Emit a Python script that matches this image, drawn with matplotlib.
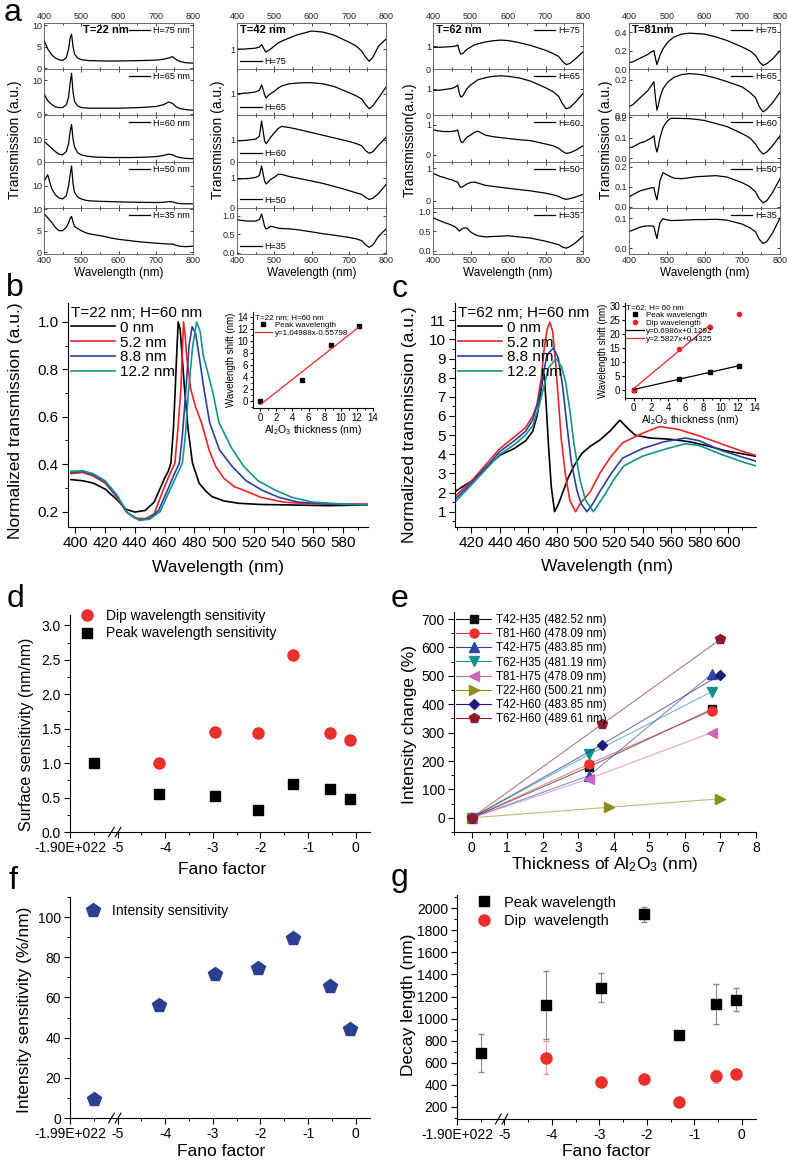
import matplotlib
matplotlib.use("Agg")
import matplotlib.pyplot as plt
from matplotlib.ticker import MultipleLocator
from matplotlib.lines import Line2D

plt.rcParams['font.family'] = ['Liberation Sans', 'DejaVu Sans']
plt.rcParams['mathtext.default'] = 'regular'
plt.rcParams['axes.unicode_minus'] = False
plt.rcParams['axes.linewidth'] = 0.8

# ==============================
# DATA
# ==============================

# --- panel a : transmission spectra, one wavelength grid for all curves
wl_a = [400, 410, 420, 430, 440, 450, 460, 466, 470, 474, 478, 482, 490, 500, 510,
        520, 540, 560, 580, 600, 630, 660, 700, 720, 735, 745, 755, 765, 780, 800]
heights = [75, 65, 60, 50, 35]

t22_h75 = [6.5, 4.5, 3.2, 2.4, 2.0, 1.8, 2.5, 4.5, 7.0, 7.9, 5.0, 3.3, 2.4, 2.0, 1.9,
           1.8, 1.75, 1.7, 1.7, 1.7, 1.75, 1.8, 1.9, 2.1, 2.4, 2.7, 2.0, 1.6, 1.3, 1.2]
t22_h65 = [6.0, 4.0, 3.0, 2.2, 2.0, 2.0, 2.8, 5.0, 9.0, 12.0, 6.5, 3.8, 2.5, 2.0, 1.9,
           1.8, 1.8, 1.8, 1.8, 1.8, 1.9, 2.0, 2.3, 2.8, 3.6, 3.2, 2.2, 1.7, 1.4, 1.2]
t22_h60 = [9.0, 7.5, 6.0, 4.5, 3.3, 3.0, 4.5, 8.0, 13.0, 16.5, 10.0, 6.5, 4.0, 3.0, 2.6,
           2.3, 2.0, 1.9, 1.8, 1.8, 1.8, 1.9, 2.2, 2.7, 3.3, 3.0, 2.2, 1.8, 1.4, 1.3]
t22_h50 = [12.0, 15.0, 9.0, 6.0, 4.5, 4.0, 5.5, 10.0, 15.0, 19.0, 11.0, 7.0, 5.0, 4.0, 3.5,
           3.2, 3.0, 2.9, 2.8, 2.7, 2.6, 2.5, 2.4, 2.5, 2.8, 2.7, 2.2, 1.9, 1.8, 1.8]
t22_h35 = [9.0, 8.0, 7.0, 5.8, 5.0, 5.0, 5.8, 6.8, 7.8, 8.3, 7.0, 6.0, 5.5, 5.0, 4.6,
           4.3, 4.0, 3.7, 3.3, 3.0, 2.7, 2.4, 2.1, 2.0, 1.9, 1.9, 1.6, 1.4, 1.3, 1.4]

t42_h75 = [1.0, 1.0, 1.0, 1.02, 1.03, 1.05, 1.1, 1.22, 1.1, 0.95, 0.85, 0.9, 1.0, 1.15, 1.3,
           1.4, 1.55, 1.7, 1.8, 1.9, 1.85, 1.7, 1.35, 1.15, 0.9, 0.6, 0.4, 0.6, 1.15, 1.5]
t42_h65 = [1.0, 1.0, 1.02, 1.03, 1.05, 1.08, 1.15, 1.4, 1.2, 0.95, 0.8, 0.88, 1.0, 1.1, 1.25,
           1.35, 1.45, 1.48, 1.5, 1.5, 1.45, 1.33, 1.05, 0.9, 0.75, 0.5, 0.3, 0.45, 0.8, 1.3]
t42_h60 = [0.95, 0.95, 0.96, 0.98, 1.0, 1.02, 1.15, 1.85, 1.4, 0.95, 0.82, 0.9, 1.1, 1.3, 1.5,
           1.6, 1.55, 1.48, 1.4, 1.32, 1.2, 1.08, 0.92, 0.82, 0.72, 0.5, 0.38, 0.45, 0.75, 1.1]
t42_h50 = [0.97, 0.97, 0.98, 0.98, 1.0, 1.02, 1.08, 1.4, 1.15, 0.9, 0.8, 0.85, 0.95, 1.02, 1.12,
           1.12, 1.05, 1.0, 0.95, 0.9, 0.82, 0.72, 0.58, 0.5, 0.45, 0.35, 0.28, 0.32, 0.48, 0.78]
t42_h35 = [0.9, 0.88, 0.87, 0.86, 0.86, 0.86, 0.9, 1.05, 0.9, 0.72, 0.65, 0.66, 0.72, 0.7, 0.67,
           0.66, 0.65, 0.63, 0.6, 0.57, 0.52, 0.48, 0.42, 0.38, 0.33, 0.22, 0.15, 0.22, 0.45, 0.65]

t62_h75 = [0.95, 0.95, 0.95, 0.96, 0.97, 0.98, 1.0, 1.05, 0.8, 0.65, 0.67, 0.72, 0.85, 0.95, 1.05,
           1.1, 1.18, 1.23, 1.26, 1.24, 1.15, 1.03, 0.82, 0.68, 0.55, 0.35, 0.2, 0.25, 0.45, 0.75]
t62_h65 = [0.95, 0.95, 0.96, 0.98, 1.0, 1.02, 1.08, 1.15, 0.85, 0.7, 0.72, 0.8, 1.0, 1.15, 1.25,
           1.35, 1.43, 1.48, 1.5, 1.48, 1.42, 1.3, 1.05, 0.9, 0.72, 0.45, 0.25, 0.3, 0.5, 0.83]
t62_h60 = [0.83, 0.8, 0.78, 0.77, 0.77, 0.77, 0.79, 0.82, 0.6, 0.45, 0.4, 0.45, 0.58, 0.65, 0.74,
           0.78, 0.65, 0.6, 0.57, 0.54, 0.5, 0.47, 0.36, 0.3, 0.22, 0.12, 0.05, 0.07, 0.15, 0.3]
t62_h50 = [0.85, 0.8, 0.75, 0.72, 0.68, 0.65, 0.6, 0.58, 0.48, 0.42, 0.43, 0.46, 0.52, 0.57, 0.58,
           0.55, 0.48, 0.45, 0.42, 0.39, 0.35, 0.31, 0.24, 0.19, 0.14, 0.08, 0.05, 0.07, 0.12, 0.2]
t62_h35 = [0.85, 0.8, 0.76, 0.72, 0.69, 0.65, 0.6, 0.55, 0.5, 0.53, 0.56, 0.58, 0.58, 0.48, 0.42,
           0.38, 0.35, 0.36, 0.37, 0.38, 0.35, 0.32, 0.24, 0.19, 0.15, 0.09, 0.06, 0.1, 0.2, 0.37]

t81_h75 = [0.07, 0.08, 0.1, 0.12, 0.14, 0.16, 0.19, 0.2, 0.12, 0.05, 0.1, 0.15, 0.22, 0.28, 0.32,
           0.35, 0.38, 0.39, 0.385, 0.38, 0.35, 0.31, 0.24, 0.2, 0.15, 0.08, 0.04, 0.06, 0.11, 0.2]
t81_h65 = [0.05, 0.06, 0.08, 0.1, 0.12, 0.14, 0.17, 0.19, 0.1, 0.03, 0.06, 0.1, 0.15, 0.18, 0.2,
           0.215, 0.23, 0.235, 0.232, 0.226, 0.21, 0.19, 0.16, 0.13, 0.1, 0.05, 0.02, 0.035, 0.07, 0.13]
t81_h60 = [0.05, 0.055, 0.065, 0.075, 0.08, 0.09, 0.1, 0.11, 0.06, 0.03, 0.06, 0.1, 0.15, 0.18, 0.195,
           0.196, 0.195, 0.194, 0.19, 0.185, 0.17, 0.155, 0.12, 0.1, 0.07, 0.04, 0.02, 0.03, 0.06, 0.11]
t81_h50 = [0.05, 0.06, 0.07, 0.08, 0.085, 0.09, 0.095, 0.095, 0.06, 0.035, 0.08, 0.13, 0.17, 0.16, 0.15,
           0.142, 0.14, 0.145, 0.15, 0.152, 0.155, 0.148, 0.12, 0.1, 0.075, 0.04, 0.02, 0.03, 0.07, 0.14]
t81_h35 = [0.055, 0.06, 0.065, 0.07, 0.073, 0.074, 0.074, 0.072, 0.05, 0.032, 0.06, 0.085, 0.098, 0.094, 0.092,
           0.092, 0.093, 0.094, 0.095, 0.095, 0.096, 0.093, 0.08, 0.068, 0.055, 0.03, 0.016, 0.022, 0.05, 0.1]

# --- panel b : T=22 nm, H=60 nm, normalised spectra for each Al2O3 thickness
b_wl_0 = [397, 405, 412, 420, 428, 434, 440, 447, 453, 456.5, 460, 462.5, 464.3, 466, 467.2, 468.3,
          469.2, 470.5, 471.8, 473.5, 476, 478.8, 483.3, 488, 492, 500, 510, 525, 545, 570, 597]
b_tr_0 = [0.335, 0.33, 0.32, 0.295, 0.25, 0.21, 0.198, 0.205, 0.24, 0.29, 0.34, 0.37, 0.405, 0.55, 0.715, 0.88,
          1.0, 0.97, 0.86, 0.715, 0.54, 0.405, 0.32, 0.285, 0.263, 0.245, 0.235, 0.23, 0.228, 0.225, 0.228]
b_wl_52 = [397, 405, 412, 420, 428, 434, 440, 447, 453, 459, 463, 467, 469, 471, 472, 472.8,
           473.8, 474.8, 477.7, 481, 484.9, 490, 494.5, 500, 507, 513.4, 525, 540, 560, 580, 597]
b_tr_52 = [0.36, 0.365, 0.35, 0.32, 0.26, 0.2, 0.172, 0.17, 0.19, 0.29, 0.35, 0.405, 0.55, 0.715, 0.88, 1.0,
           0.95, 0.86, 0.715, 0.64, 0.575, 0.46, 0.39, 0.34, 0.305, 0.29, 0.26, 0.24, 0.232, 0.232, 0.232]
b_wl_88 = [397, 405, 412, 420, 428, 435, 443, 450, 456, 462, 466, 470, 472, 474.4, 476.5, 478.6,
           481, 483.3, 486.6, 490.4, 497, 505.6, 515, 525.7, 537, 550, 570, 597]
b_tr_88 = [0.365, 0.37, 0.355, 0.325, 0.265, 0.195, 0.165, 0.172, 0.205, 0.29, 0.35, 0.405, 0.52, 0.715, 0.9, 0.98,
           0.95, 0.856, 0.715, 0.575, 0.46, 0.39, 0.33, 0.29, 0.26, 0.24, 0.232, 0.228]
b_wl_122 = [397, 405, 412, 420, 428, 435, 443, 450, 457, 463.6, 468, 472, 474, 476.2, 479, 481.6,
            484, 486, 489, 492.6, 496.7, 505, 513.4, 523, 534.7, 545.8, 560, 580, 597]
b_tr_122 = [0.37, 0.372, 0.36, 0.33, 0.27, 0.195, 0.163, 0.168, 0.2, 0.29, 0.35, 0.405, 0.52, 0.715, 0.9, 1.0,
            0.96, 0.86, 0.79, 0.7, 0.575, 0.47, 0.39, 0.33, 0.29, 0.26, 0.24, 0.232, 0.228]

# --- panel c : T=62 nm, H=60 nm
c_wl_0 = [408.5, 420, 430, 440, 450, 458, 463, 466, 468, 470, 471, 472.5, 474, 476, 478.3, 481, 484, 488,
          492, 497.4, 503, 510, 517, 524, 529, 534.7, 545, 560, 573, 585, 597, 608, 619]
c_tr_0 = [2.05, 2.6, 3.3, 3.95, 4.3, 4.7, 5.2, 6.0, 6.9, 8.0, 8.2, 6.5, 4.5, 2.3, 1.0, 1.4, 2.0, 2.8,
          3.4, 4.04, 4.4, 4.74, 5.2, 5.78, 5.4, 5.0, 4.85, 4.78, 4.65, 4.45, 4.2, 4.05, 3.9]
c_wl_52 = [408.5, 420, 430, 440, 450, 458, 463, 466, 469, 471, 473, 475, 477, 479, 481, 483, 486, 489,
           493, 497, 503, 510, 518, 526, 540, 552, 565, 580, 595, 610, 619]
c_tr_52 = [1.8, 2.6, 3.45, 4.3, 4.9, 5.4, 6.0, 6.6, 8.0, 9.5, 10.5, 10.9, 10.4, 8.8, 6.8, 4.8, 2.9, 1.6,
           1.0, 1.5, 2.0, 3.0, 3.9, 4.6, 5.1, 5.45, 5.3, 4.95, 4.55, 4.15, 3.95]
c_wl_88 = [408.5, 420, 430, 440, 450, 458, 463, 467, 470, 473, 477.5, 481, 484, 487, 490, 494, 497, 501,
           505, 510, 518, 526, 540, 555, 570, 580, 595, 610, 619]
c_tr_88 = [1.65, 2.5, 3.3, 4.15, 4.7, 5.2, 5.8, 6.8, 8.0, 9.2, 9.55, 9.0, 7.5, 5.5, 3.6, 2.1, 1.4, 1.0,
           1.4, 2.05, 3.0, 3.8, 4.3, 4.65, 4.85, 4.7, 4.2, 3.85, 3.65]
c_wl_122 = [408.5, 420, 430, 440, 450, 458, 463, 467, 470, 474, 479.5, 483, 486, 489, 492, 496, 500, 505.5,
            510, 514, 520, 527, 540, 555, 570, 580, 595, 610, 619]
c_tr_122 = [1.5, 2.4, 3.2, 4.0, 4.5, 5.0, 5.5, 6.4, 7.3, 8.5, 9.0, 8.6, 7.8, 6.3, 4.5, 2.7, 1.6, 1.0,
            1.5, 1.95, 2.7, 3.4, 3.9, 4.25, 4.55, 4.45, 4.0, 3.6, 3.4]

thick_labels = ["0 nm", "5.2 nm", "8.8 nm", "12.2 nm"]

# insets of b and c : wavelength shift vs Al2O3 thickness
ald_thick = [0, 5.2, 8.8, 12.2]
b_peak_shift = [0, 3.6, 9.4, 12.4]
b_fit = (1.04988, -0.55798)
c_peak_shift = [0, 4.0, 6.3, 8.5]
c_dip_shift = [0, 14.5, 22.5, 27.0]
c_peak_fit = (0.6986, 0.1292)
c_dip_fit = (2.5827, 0.4325)

# --- panels d, f, g : quantities vs Fano factor
# the "break" values sit on the broken segment of the axis (Fano ~ -1.9E+22)
fano_break = -5.5
fano = [-4.13, -2.96, -2.05, -1.32, -0.55, -0.13]

d_dip = [1.0, 1.455, 1.43, 2.575, 1.43, 1.33]
d_peak_break = 1.0
d_peak = [0.546, 0.517, 0.314, 0.69, 0.62, 0.483]

f_int_break = 9.5
f_int = [56.3, 71.8, 74.6, 89.7, 65.6, 44.4]

g_peak_break, g_peak_break_err = 689, 172
g_peak = [1123, 1282, 1946, 848, 1132, 1171]
g_peak_err = [310, 135, 68, 20, 185, 105]
g_dip = [646, 429, 456, 242, 477, 499]
g_dip_err = [150, 12, 12, 10, 58, 15]

# --- panel e : intensity change vs Al2O3 thickness
e_labels = ["T42-H35 (482.52 nm)", "T81-H60 (478.09 nm)", "T42-H75 (483.85 nm)",
            "T62-H35 (481.19 nm)", "T81-H75 (478.09 nm)", "T22-H60 (500.21 nm)",
            "T42-H60 (483.85 nm)", "T62-H60 (489.61 nm)"]
e_x = [[0, 3.31, 6.75], [0, 3.31, 6.75], [0, 3.31, 6.75], [0, 3.31, 6.75],
       [0, 3.31, 6.75], [0, 3.85, 7.0], [0, 3.66, 7.0], [0, 3.66, 7.0]]
e_y = [[0, 180, 382], [0, 190, 377], [0, 149, 506], [0, 224, 444],
       [0, 138, 300], [0, 37, 67], [0, 258, 504], [0, 329, 629]]

# ==============================
# FIGURE
# ==============================
W, H = 787, 1162
fig = plt.figure(figsize=(W / 100, H / 100), dpi=100)


def px_axes(left, top, right, bottom):
    return fig.add_axes([left / W, 1 - bottom / H, (right - left) / W, (bottom - top) / H])


def px_text(x, y, s, **kw):
    kw.setdefault("ha", "center")
    kw.setdefault("va", "center")
    fig.text(x / W, 1 - y / H, s, **kw)


def origin_style(ax, labelsize=10):
    ax.spines["top"].set_visible(False)
    ax.spines["right"].set_visible(False)
    ax.tick_params(which="major", direction="out", length=4.5, width=0.8, labelsize=labelsize, pad=2)
    ax.tick_params(which="minor", direction="out", length=2.5, width=0.7)


def axis_break(ax, x):
    tr = ax.get_xaxis_transform()
    for dx in (-0.07, 0.07):
        ax.plot([x + dx - 0.06, x + dx + 0.06], [-0.022, 0.022], transform=tr,
                color="k", lw=0.8, clip_on=False)


# ------------------------------
# panel a
# ------------------------------
a_cols = [
    dict(title="T=22 nm", left=44, right=193, curves=[t22_h75, t22_h65, t22_h60, t22_h50, t22_h35],
         suffix=" nm", loc="upper right", tx=0.26,
         ylims=[(-0.2, 10.5), (-0.3, 13.2), (0, 20.5), (0, 21), (-0.4, 10.3)],
         yticks=[[0, 5, 10], [0, 10], [0, 10], [10], [0, 5, 10]], dec=False),
    dict(title="T=42 nm", left=237, right=386, curves=[t42_h75, t42_h65, t42_h60, t42_h50, t42_h35],
         suffix="", loc="lower left", tx=0.02,
         ylims=[(0, 2.3), (0, 2.12), (0, 2.1), (0, 1.55), (-0.03, 1.22)],
         yticks=[[1], [1], [0, 1], [0, 1], [0.0, 0.5, 1.0]], dec=False),
    dict(title="T=62 nm", left=433, right=583, curves=[t62_h75, t62_h65, t62_h60, t62_h50, t62_h35],
         suffix="", loc="upper right", tx=0.02,
         ylims=[(0, 2.0), (0, 1.75), (-0.22, 1.3), (-0.21, 1.21), (-0.09, 1.1)],
         yticks=[[0, 1], [0, 1], [0, 1], [0, 1], [0.0, 0.5, 1.0]], dec=False),
    dict(title="T=81nm", left=629, right=780, curves=[t81_h75, t81_h65, t81_h60, t81_h50, t81_h35],
         suffix="", loc="upper right", tx=0.02,
         ylims=[(0, 0.5), (0, 0.26), (-0.017, 0.21), (-0.005, 0.225), (-0.019, 0.134)],
         yticks=[[0.0, 0.2, 0.4], [0.0, 0.2], [0.0, 0.1, 0.2], [0.0, 0.1, 0.2], [0.0, 0.1]], dec=True),
]
a_top, a_h = 23, 46.2
for col in a_cols:
    for i, h in enumerate(heights):
        top = a_top + i * a_h
        ax = px_axes(col["left"], top, col["right"], top + a_h)
        ax.plot(wl_a, col["curves"][i], color="k", lw=0.9, label=f"H={h}{col['suffix']}")
        ax.set_xlim(400, 800)
        ax.set_ylim(*col["ylims"][i])
        ticks = col["yticks"][i]
        ax.set_yticks(ticks)
        if col["dec"] or 0.5 in ticks:
            ax.set_yticklabels([f"{v:.1f}" for v in ticks])
        ax.xaxis.set_major_locator(MultipleLocator(100))
        ax.xaxis.set_minor_locator(MultipleLocator(50))
        ax.tick_params(which="both", direction="in", top=True, right=True, width=0.6,
                       labelsize=6.5, pad=1.5, colors="#222222")
        ax.tick_params(which="major", length=2.5)
        ax.tick_params(which="minor", length=1.5)
        ax.tick_params(labeltop=(i == 0), labelbottom=(i == 4))
        for s in ax.spines.values():
            s.set_linewidth(0.6)
            s.set_color("#555555")
        ax.legend(loc=col["loc"], frameon=False, fontsize=6.5, handlelength=2.4,
                  handletextpad=0.3, borderaxespad=0.15, borderpad=0.2)
        if i == 0:
            ax.text(col["tx"], 0.95, col["title"], transform=ax.transAxes, fontsize=8,
                    fontweight="bold", va="top", ha="left")
    cx = (col["left"] + col["right"]) / 2
    px_text(cx, 273, "Wavelength (nm)", fontsize=8.5)

px_text(15, 140, "Transmission (a.u.)", rotation=90, fontsize=10)
px_text(218, 140, "Transmission (a.u.)", rotation=90, fontsize=10)
px_text(410, 140, "Transmission(a.u.)", rotation=90, fontsize=10)
px_text(606, 140, "Transmission (a.u.)", rotation=90, fontsize=10)

# ------------------------------
# panels b and c
# ------------------------------
spec_colors = ["black", "#e8262a", "#2e3f9c", "#14958a"]


def spectra_panel(box, curves, title, xlim, ylim, xmaj, ymaj, ymin, yfmt):
    ax = px_axes(*box)
    origin_style(ax, labelsize=11)
    for (wl, tr), c, lab in zip(curves, spec_colors, thick_labels):
        ax.plot(wl, tr, color=c, lw=1.2, label=lab)
    ax.set_xlim(*xlim)
    ax.set_ylim(*ylim)
    ax.set_xticks(xmaj)
    ax.xaxis.set_minor_locator(MultipleLocator(10))
    ax.set_yticks(ymaj)
    if yfmt:
        ax.set_yticklabels([yfmt.format(v) for v in ymaj])
    ax.yaxis.set_minor_locator(MultipleLocator(ymin))
    ax.legend(title=title, loc="upper left", frameon=False, fontsize=11, title_fontsize=11,
              handlelength=2.9, handletextpad=0.3, labelspacing=0.05, borderaxespad=0.1,
              borderpad=0.1, alignment="left")
    return ax


ax_b = spectra_panel((68, 303, 368, 527),
                     [(b_wl_0, b_tr_0), (b_wl_52, b_tr_52), (b_wl_88, b_tr_88), (b_wl_122, b_tr_122)],
                     "T=22 nm; H=60 nm", (395, 597), (0.135, 1.08),
                     list(range(400, 581, 20)), [0.2, 0.4, 0.6, 0.8, 1.0], 0.1, "{:.1f}")
ax_c = spectra_panel((455, 303, 756, 527),
                     [(c_wl_0, c_tr_0), (c_wl_52, c_tr_52), (c_wl_88, c_tr_88), (c_wl_122, c_tr_122)],
                     "T=62 nm; H=60 nm", (408.5, 619.5), (0.2, 11.9),
                     list(range(420, 601, 20)), list(range(1, 12)), 0.5, None)
px_text(16, 421, "Normalized transmission (a.u.)", rotation=90, fontsize=12.5)
px_text(218, 567, "Wavelength (nm)", fontsize=12.5)
px_text(409, 425, "Normalized transmission (a.u.)", rotation=90, fontsize=12.5)
px_text(607, 566, "Wavelength (nm)", fontsize=12.5)


def inset_style(ax):
    origin_style(ax, labelsize=7)
    ax.tick_params(which="major", length=2.5, pad=1)
    ax.tick_params(which="minor", length=1.5)
    ax.xaxis.set_major_locator(MultipleLocator(2))
    ax.xaxis.set_minor_locator(MultipleLocator(1))
    ax.set_xlabel("Al$_2$O$_3$ thickness (nm)", fontsize=7.5, labelpad=0)
    ax.set_ylabel("Wavelength shift (nm)", fontsize=7, labelpad=1)


# inset b
ib = px_axes(253, 312, 373, 408)
inset_style(ib)
ib.plot(ald_thick, b_peak_shift, "s", color="k", ms=3.2, label="Peak wavelength")
fit_x = [ald_thick[0], ald_thick[-1]]
ib.plot(fit_x, [b_fit[0] * x + b_fit[1] for x in fit_x], color="#e8262a", lw=0.9,
        label=f"y={b_fit[0]}x{b_fit[1]}")
ib.set_xlim(-0.9, 14)
ib.set_ylim(-1.1, 14.8)
ib.yaxis.set_major_locator(MultipleLocator(2))
ib.yaxis.set_minor_locator(MultipleLocator(1))
ib.legend(title="T=22 nm; H=60 nm", loc="upper left", frameon=False, fontsize=5.8,
          title_fontsize=5.8, handlelength=2.2, handletextpad=0.3, labelspacing=0.05,
          borderaxespad=0.1, borderpad=0.1, alignment="left")

# inset c
ic = px_axes(625, 303, 755, 398)
inset_style(ic)
ic.plot(ald_thick, c_peak_shift, "s", color="k", ms=3, label="Peak wavelength")
ic.plot(ald_thick, c_dip_shift, "o", color="#e8262a", ms=3, label="Dip wavelength")
fx_p = [ald_thick[0], ald_thick[-1]]
fx_d = [ald_thick[0], ald_thick[2]]
ic.plot(fx_p, [c_peak_fit[0] * x + c_peak_fit[1] for x in fx_p], color="k", lw=0.9,
        label=f"y={c_peak_fit[0]}x+{c_peak_fit[1]}")
ic.plot(fx_d, [c_dip_fit[0] * x + c_dip_fit[1] for x in fx_d], color="#e8262a", lw=0.9,
        label=f"y={c_dip_fit[0]}x+{c_dip_fit[1]}")
ic.set_xlim(-1.0, 14)
ic.set_ylim(-2.9, 31)
ic.yaxis.set_major_locator(MultipleLocator(5))
ic.legend(title="T=62; H= 60 nm", loc="upper left", frameon=False, fontsize=5.8,
          title_fontsize=5.8, handlelength=2.2, handletextpad=0.3, labelspacing=0.05,
          borderaxespad=0.0, borderpad=0.1, alignment="left")

# ------------------------------
# panels d, f, g (Fano factor, broken axis)
# ------------------------------


def fano_axes(box, break_label, ylim, ymaj, ymin, yfmt=None):
    ax = px_axes(*box)
    origin_style(ax, labelsize=10)
    ax.set_xlim(-6, 0.3)
    ax.set_ylim(*ylim)
    ax.set_xticks([-6, -5, -4, -3, -2, -1, 0])
    ax.set_xticklabels([break_label, "-5", "-4", "-3", "-2", "-1", "0"])
    ax.set_xticks([-5.5, -4.5, -3.5, -2.5, -1.5, -0.5], minor=True)
    ax.set_yticks(ymaj)
    if yfmt:
        ax.set_yticklabels([yfmt.format(v) for v in ymaj])
    ax.yaxis.set_minor_locator(MultipleLocator(ymin))
    axis_break(ax, -5.06)
    return ax


red = "#e8302c"
navy = "#2b3f8f"

ax_d = fano_axes((70, 615, 370, 832), "-1.90E+022", (0, 3.15),
                 [0.0, 0.5, 1.0, 1.5, 2.0, 2.5, 3.0], 0.25, "{:.1f}")
ax_d.plot(fano, d_dip, "o", color=red, ms=8, label="Dip wavelength sensitivity")
ax_d.plot([fano_break] + fano, [d_peak_break] + d_peak, "s", color="k", ms=7,
          label="Peak wavelength sensitivity")
ax_d.legend(loc="upper left", bbox_to_anchor=(0.0, 1.06), frameon=False, fontsize=10,
            handlelength=1.5, handletextpad=0.6, labelspacing=0.25, borderaxespad=0.1)
px_text(27, 734, "Surface sensitivity (nm/nm)", rotation=90, fontsize=11.5)
px_text(222, 870, "Fano factor", fontsize=12.5)

ax_f = fano_axes((70, 897, 370, 1118), "-1.99E+022", (0, 110),
                 [0, 20, 40, 60, 80, 100], 10)
ax_f.plot([fano_break] + fano, [f_int_break] + f_int, "p", color=navy, ms=10,
          label="Intensity sensitivity")
ax_f.legend(loc="upper left", bbox_to_anchor=(0.02, 1.0), frameon=False, fontsize=10,
            handlelength=1.5, handletextpad=0.6, borderaxespad=0.1)
px_text(25, 1010, "Intensity sensitivity (%/nm)", rotation=90, fontsize=12.5)
px_text(221, 1152, "Fano factor", fontsize=12.5)

ax_g = fano_axes((457, 895, 756, 1119), "-1.90E+022", (91, 2120),
                 list(range(200, 2001, 200)), 100)
ax_g.errorbar([fano_break] + fano, [g_peak_break] + g_peak, yerr=[g_peak_break_err] + g_peak_err,
              fmt="s", color="k", ms=7, ecolor="#8a8a8a", elinewidth=0.8, capsize=2.5)
ax_g.errorbar(fano, g_dip, yerr=g_dip_err, fmt="o", color=red, ms=8, ecolor="#f0a0a0",
              elinewidth=0.8, capsize=2.5)
g_handles = [Line2D([], [], ls="none", marker="s", color="k", ms=7),
             Line2D([], [], ls="none", marker="o", color=red, ms=8)]
ax_g.legend(g_handles, ["Peak wavelength", "Dip  wavelength"], loc="upper left",
            bbox_to_anchor=(0.03, 1.03), frameon=False, fontsize=10.5, handlelength=1.5,
            handletextpad=0.6, labelspacing=0.3, borderaxespad=0.1)
px_text(408, 1005, "Decay length (nm)", rotation=90, fontsize=12.5)
px_text(606, 1152, "Fano factor", fontsize=12.5)

# ------------------------------
# panel e
# ------------------------------
ax_e = px_axes(454, 612, 756, 832)
origin_style(ax_e, labelsize=10)
e_markers = ["s", "o", "^", "v", "<", ">", "D", "p"]
e_colors = ["#111111", "#ee3030", "#2f45a8", "#12938a", "#cc66bb", "#8c8c1c", "#1c1c80", "#8b1c2c"]
e_ms = [5.5, 6.5, 6.5, 6.5, 6.5, 6.5, 5.5, 7]
for xs, ys, m, c, ms in zip(e_x, e_y, e_markers, e_colors, e_ms):
    ax_e.plot(xs, ys, color=c, lw=0.8, alpha=0.6)
    ax_e.plot(xs, ys, m, color=c, ms=ms)
e_handles = [Line2D([], [], color=c, lw=0.8, marker=m, ms=ms)
             for m, c, ms in zip(e_markers, e_colors, e_ms)]
ax_e.legend(e_handles, e_labels, loc="upper left", bbox_to_anchor=(0.0, 1.0), frameon=False,
            fontsize=8.3, handlelength=3.0, handletextpad=0.4, labelspacing=0.18,
            borderaxespad=0.1, borderpad=0.1)
ax_e.set_xlim(-0.5, 8)
ax_e.set_ylim(-50, 725)
ax_e.xaxis.set_major_locator(MultipleLocator(1))
ax_e.xaxis.set_minor_locator(MultipleLocator(0.5))
ax_e.set_yticks(list(range(0, 701, 100)))
ax_e.yaxis.set_minor_locator(MultipleLocator(50))
px_text(409, 724, "Intensity change (%)", rotation=90, fontsize=12.5)
px_text(605, 864, "Thickness of Al$_2$O$_3$ (nm)", fontsize=12.5)

# ------------------------------
# panel letters
# ------------------------------
for letter, x, y in [("a", 13, 21), ("b", 15, 296), ("c", 400, 297), ("d", 15, 607),
                     ("e", 400, 607), ("f", 13, 889), ("g", 400, 886)]:
    px_text(x, y, letter, fontsize=23, va="baseline")

fig.savefig("out.png", dpi=100)
